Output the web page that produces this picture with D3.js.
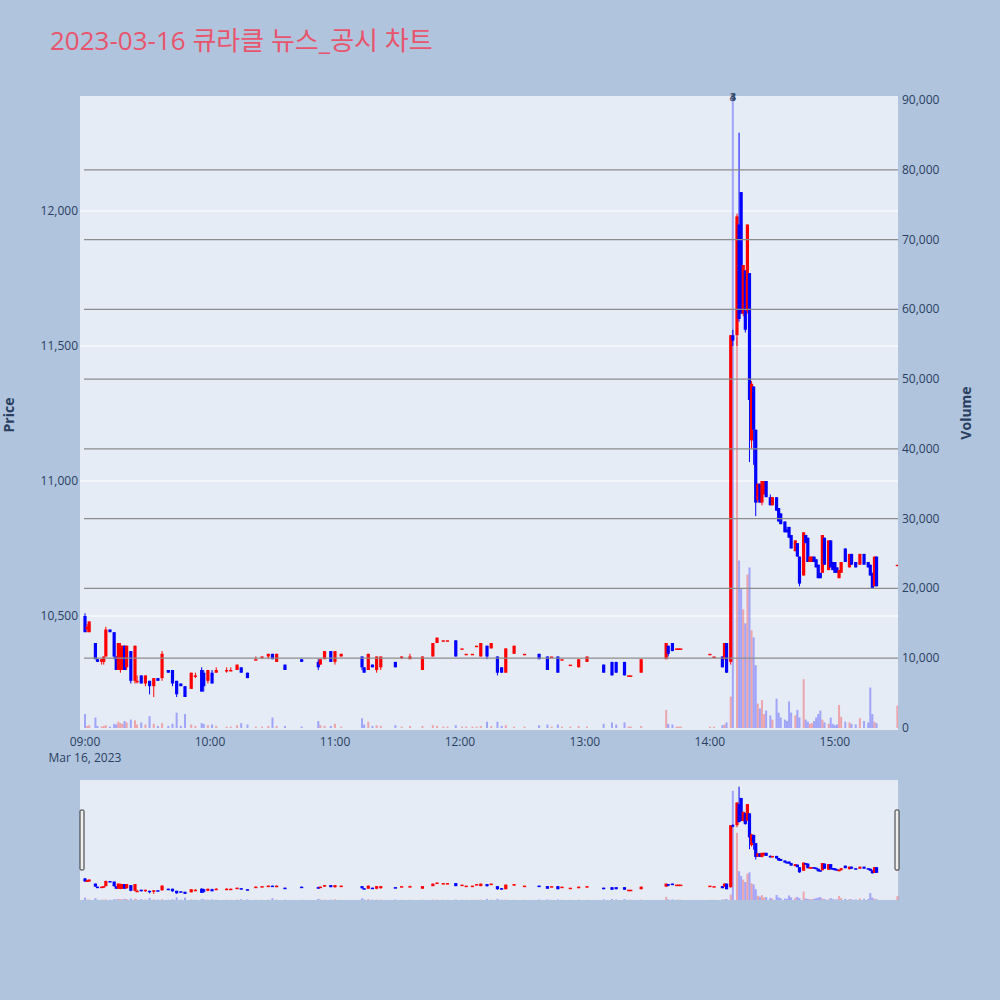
<!DOCTYPE html>
<html>
<head>
<meta charset="utf-8">
<script src="https://cdn.jsdelivr.net/npm/d3@7"></script>
<style>
  body { margin: 0; background: #b0c4de; }
  text { font-family: "Open Sans", "Noto Sans CJK KR", sans-serif; }
</style>
</head>
<body>
<div id="chart"></div>
<script>
// minute candles: [time, open, high, low, close, volume]
const ohlcv = [
  ["09:00",10500,10510,10440,10440,2000],["09:01",10450,10470,10440,10460,300],["09:02",10440,10480,10440,10480,400],
  ["09:05",10400,10400,10340,10340,1500],["09:06",10340,10340,10330,10330,300],["09:08",10330,10340,10320,10340,200],
  ["09:09",10330,10350,10320,10350,300],["09:10",10350,10460,10350,10450,400],["09:12",10450,10450,10440,10440,200],
  ["09:14",10440,10440,10340,10350,600],["09:15",10350,10350,10300,10300,500],["09:16",10300,10400,10300,10400,900],
  ["09:17",10300,10400,10290,10390,700],["09:18",10300,10390,10300,10390,600],["09:19",10390,10390,10300,10300,1000],
  ["09:20",10310,10390,10300,10390,800],["09:22",10370,10370,10250,10260,1200],["09:24",10260,10390,10250,10390,1100],
  ["09:25",10260,10280,10250,10260,500],["09:27",10280,10280,10250,10250,800],["09:29",10250,10280,10240,10280,500],
  ["09:31",10260,10260,10210,10240,1700],["09:33",10240,10270,10200,10270,600],["09:35",10270,10270,10260,10260,300],
  ["09:37",10270,10370,10260,10360,700],["09:40",10300,10300,10290,10290,300],["09:42",10300,10300,10240,10250,600],
  ["09:44",10260,10260,10200,10210,2200],["09:46",10250,10250,10240,10240,300],["09:48",10240,10240,10200,10200,2000],
  ["09:51",10230,10290,10230,10290,500],["09:53",10280,10290,10270,10280,300],["09:56",10300,10310,10220,10220,700],
  ["09:57",10290,10300,10220,10240,600],["09:59",10260,10300,10250,10300,400],["10:01",10290,10300,10250,10250,500],
  ["10:03",10290,10310,10290,10300,300],["10:08",10300,10310,10290,10300,200],["10:10",10300,10310,10300,10300,200],
  ["10:13",10300,10320,10300,10320,400],["10:15",10310,10310,10290,10290,700],["10:18",10290,10290,10270,10270,500],
  ["10:22",10340,10350,10340,10340,200],["10:25",10350,10350,10340,10350,200],["10:28",10350,10360,10340,10360,300],
  ["10:30",10360,10360,10340,10340,1500],["10:32",10330,10360,10330,10360,300],["10:36",10320,10320,10300,10300,300],
  ["10:44",10340,10340,10330,10330,200],["10:52",10330,10340,10300,10310,1000],["10:53",10320,10340,10320,10340,400],
  ["10:55",10340,10370,10340,10370,300],["10:58",10370,10370,10330,10330,300],["11:00",10330,10370,10320,10370,600],
  ["11:03",10350,10360,10350,10360,200],["11:13",10350,10350,10300,10310,1400],["11:14",10310,10310,10290,10290,500],
  ["11:16",10300,10360,10300,10360,900],["11:18",10320,10320,10310,10310,300],["11:20",10300,10350,10290,10350,400],
  ["11:22",10310,10350,10300,10350,300],["11:29",10330,10330,10310,10310,400],["11:32",10350,10350,10340,10350,200],
  ["11:36",10340,10360,10340,10350,300],["11:42",10300,10350,10300,10350,300],["11:47",10350,10400,10350,10400,400],
  ["11:49",10400,10420,10400,10420,300],["11:52",10410,10410,10410,10410,200],["11:54",10410,10410,10410,10410,200],
  ["11:58",10410,10410,10350,10350,400],["12:01",10380,10380,10380,10380,200],["12:03",10360,10360,10360,10360,200],
  ["12:06",10360,10360,10360,10360,200],["12:08",10390,10390,10390,10390,200],["12:10",10350,10400,10350,10400,300],
  ["12:13",10390,10390,10340,10350,900],["12:15",10380,10400,10380,10400,300],["12:18",10350,10350,10280,10290,900],
  ["12:20",10310,10310,10290,10290,300],["12:22",10290,10380,10290,10380,400],["12:26",10360,10390,10360,10390,200],
  ["12:31",10360,10360,10360,10360,200],["12:38",10360,10360,10340,10340,400],["12:42",10350,10350,10300,10300,500],
  ["12:44",10350,10350,10350,10350,200],["12:47",10350,10350,10290,10290,500],["12:49",10340,10340,10340,10340,200],
  ["12:53",10320,10320,10320,10320,200],["12:57",10310,10340,10310,10340,300],["13:01",10330,10350,10330,10350,200],
  ["13:09",10320,10320,10290,10290,600],["13:13",10330,10330,10280,10280,800],["13:15",10330,10330,10290,10290,500],
  ["13:19",10330,10330,10280,10280,800],["13:21",10280,10280,10280,10280,200],["13:22",10280,10280,10280,10280,200],
  ["13:27",10290,10340,10290,10340,300],["13:39",10340,10400,10340,10400,2600],["13:40",10390,10390,10350,10360,600],
  ["13:42",10400,10400,10370,10370,500],["13:44",10380,10380,10380,10380,200],["13:45",10380,10380,10380,10380,200],
  ["13:46",10380,10380,10380,10380,200],["14:00",10360,10360,10360,10360,200],["14:02",10350,10350,10350,10350,200],
  ["14:06",10350,10350,10310,10310,400],["14:07",10340,10400,10340,10400,500],["14:08",10400,10400,10290,10290,800],
  ["14:10",10330,11540,10320,11540,4500],["14:11",11540,11560,11500,11520,91000],["14:13",11540,11990,11500,11980,56000],
  ["14:14",11950,12290,11590,11600,24000],["14:15",12070,12070,11620,11620,20000],["14:16",11620,11800,11610,11800,17000],
  ["14:17",11780,11780,11550,11560,15000],["14:18",11630,11950,11620,11950,22000],["14:19",11770,11770,11070,11300,23000],
  ["14:20",11150,11370,11120,11360,14000],["14:21",11350,11350,11060,11190,13000],["14:22",11190,11190,10870,10920,9000],
  ["14:23",10930,10990,10920,10990,3500],["14:24",10990,10990,10920,10920,2800],["14:25",10920,11000,10910,11000,4000],
  ["14:26",10950,11000,10950,11000,2000],["14:27",11000,11000,10940,10940,2500],["14:29",10940,10950,10910,10910,1800],
  ["14:30",10910,10940,10910,10940,1200],["14:32",10940,10940,10890,10890,4200],["14:33",10900,10900,10850,10850,2200],
  ["14:34",10880,10880,10840,10840,1500],["14:36",10850,10850,10810,10810,1200],["14:37",10820,10830,10810,10810,1000],
  ["14:38",10830,10830,10790,10790,3800],["14:39",10800,10800,10750,10750,2200],["14:41",10740,10780,10740,10780,1800],
  ["14:42",10770,10770,10720,10720,2600],["14:43",10720,10720,10610,10620,1500],["14:45",10650,10810,10650,10810,7000],
  ["14:46",10800,10800,10770,10770,1200],["14:47",10790,10790,10700,10700,900],["14:48",10700,10720,10700,10720,600],
  ["14:49",10700,10720,10700,10720,700],["14:50",10720,10720,10700,10700,1000],["14:51",10710,10710,10680,10680,1500],
  ["14:52",10690,10690,10640,10640,2000],["14:53",10660,10660,10640,10640,2500],["14:54",10660,10800,10660,10800,1200],
  ["14:55",10790,10790,10690,10690,800],["14:57",10670,10780,10670,10780,600],["14:58",10780,10780,10680,10680,1500],
  ["14:59",10700,10700,10670,10670,600],["15:00",10700,10700,10660,10660,400],["15:01",10680,10680,10660,10660,500],
  ["15:02",10640,10670,10640,10670,3300],["15:03",10660,10700,10660,10700,1600],["15:05",10750,10750,10700,10700,900],
  ["15:07",10680,10730,10680,10730,800],["15:08",10730,10730,10690,10690,600],["15:10",10700,10700,10680,10680,500],
  ["15:12",10690,10730,10690,10730,1400],["15:14",10730,10730,10690,10690,1000],["15:16",10700,10700,10680,10680,800],
  ["15:17",10690,10690,10650,10650,5800],["15:18",10660,10660,10600,10600,2000],["15:19",10610,10720,10610,10720,900],
  ["15:20",10720,10720,10610,10610,700],["15:30",10690,10690,10690,10690,3200]
];
const priceTicks = [10500, 11000, 11500, 12000];
const volumeTicks = [0, 10000, 20000, 30000, 40000, 50000, 60000, 70000, 80000, 90000];
const timeTicks = ["09:00", "10:00", "11:00", "12:00", "13:00", "14:00", "15:00"];
const markers = ["3", "4"];

const W = 1000, H = 1000;
const plot = { left: 80, right: 898, top: 96, bottom: 730 };
const toMin = t => { const [h, m] = t.split(":").map(Number); return (h - 9) * 60 + m; };

const x = d3.scaleLinear().domain([-2.4, 390.3]).range([plot.left, plot.right]);
const y = d3.scaleLinear().domain([10500, 12000]).range([616, 211]);
const yv = d3.scaleLinear().domain([0, 90000]).range([728, 100]);

const svg = d3.select("#chart").append("svg").attr("width", W).attr("height", H);
svg.append("rect").attr("width", W).attr("height", H).attr("fill", "#b0c4de");

svg.append("text").attr("x", 50).attr("y", 50).attr("font-size", 26)
  .attr("fill", "#e8546b").text("2023-03-16 큐라클 뉴스_공시 차트");

svg.append("rect").attr("x", plot.left).attr("y", plot.top)
  .attr("width", plot.right - plot.left).attr("height", plot.bottom - plot.top).attr("fill", "#e5ecf6");

const g = svg.append("g");
g.append("defs").append("clipPath").attr("id", "clip").append("rect")
  .attr("x", plot.left).attr("y", plot.top).attr("width", plot.right - plot.left).attr("height", plot.bottom - plot.top);

// price grid (white)
g.selectAll(".pg").data(priceTicks).join("line")
  .attr("x1", plot.left).attr("x2", plot.right).attr("y1", d => y(d)).attr("y2", d => y(d))
  .attr("stroke", "#fff").attr("stroke-width", 1);

const data = ohlcv.map(([t, o, h, l, c, v]) => ({ m: toMin(t), o, h, l, c, v }));
const red = "#ff0000", blue = "#0000ff";
const col = d => d.c >= d.o ? red : blue;

const clipped = g.append("g").attr("clip-path", "url(#clip)");
// volume bars
clipped.selectAll(".vol").data(data).join("rect")
  .attr("x", d => x(d.m) - 1).attr("width", 2)
  .attr("y", d => yv(d.v)).attr("height", d => yv(0) - yv(d.v))
  .attr("fill", d => d.c >= d.o ? "rgba(255,0,0,0.3)" : "rgba(0,0,255,0.3)");

// volume grid (gray), drawn over volume bars
g.selectAll(".vg").data(volumeTicks.slice(1, -1)).join("line")
  .attr("x1", plot.left + 4).attr("x2", plot.right).attr("y1", d => yv(d)).attr("y2", d => yv(d))
  .attr("stroke", "#8c8c8c").attr("stroke-width", 1.2);

// candles
const cg = clipped.selectAll(".c").data(data).join("g");
cg.append("line").attr("x1", d => x(d.m)).attr("x2", d => x(d.m))
  .attr("y1", d => y(d.h)).attr("y2", d => y(d.l)).attr("stroke", col).attr("stroke-width", 1);
cg.append("rect").attr("x", d => x(d.m) - 1.6).attr("width", 3.2)
  .attr("y", d => y(Math.max(d.o, d.c)))
  .attr("height", d => Math.max(1.5, Math.abs(y(d.o) - y(d.c))))
  .attr("fill", col);

// markers at the spike
markers.forEach(s => g.append("text").attr("x", x(toMin("14:11"))).attr("y", 101)
  .attr("text-anchor", "middle").attr("font-size", 11).attr("font-weight", "bold")
  .attr("fill", "#2a3f5f").attr("opacity", 0.8).text(s));

// axes labels
const fmt = d3.format(",");
g.selectAll(".pl").data(priceTicks).join("text")
  .attr("x", plot.left - 2).attr("y", d => y(d) + 4).attr("text-anchor", "end")
  .attr("font-size", 12).attr("fill", "#2a3f5f").text(fmt);
g.selectAll(".vl").data(volumeTicks).join("text")
  .attr("x", plot.right + 4).attr("y", d => yv(d) + 4)
  .attr("font-size", 12).attr("fill", "#2a3f5f").text(fmt);
g.selectAll(".tl").data(timeTicks).join("text")
  .attr("x", d => x(toMin(d))).attr("y", plot.bottom + 16).attr("text-anchor", "middle")
  .attr("font-size", 12).attr("fill", "#2a3f5f").text(d => d);
g.append("text").attr("x", x(0)).attr("y", plot.bottom + 32).attr("text-anchor", "middle")
  .attr("font-size", 12).attr("fill", "#2a3f5f").text("Mar 16, 2023");
g.append("text").attr("transform", "translate(14,415) rotate(-90)").attr("text-anchor", "middle")
  .attr("font-size", 14).attr("font-weight", "bold").attr("fill", "#2a3f5f").text("Price");
g.append("text").attr("transform", "translate(971,413) rotate(-90)").attr("text-anchor", "middle")
  .attr("font-size", 14).attr("font-weight", "bold").attr("fill", "#2a3f5f").text("Volume");

// range slider
const rs = { top: 780, bottom: 900 };
svg.append("rect").attr("x", plot.left).attr("y", rs.top).attr("width", plot.right - plot.left)
  .attr("height", rs.bottom - rs.top).attr("fill", "#e5ecf6");
const ys = d3.scaleLinear().domain([10080, 12420]).range([rs.bottom, rs.top]);
const yvs = d3.scaleLinear().domain([0, 100000]).range([rs.bottom, rs.top]);
const sg = svg.append("g");
sg.selectAll(".sv").data(data).join("rect")
  .attr("x", d => x(d.m) - 1).attr("width", 2).attr("y", d => yvs(d.v)).attr("height", d => rs.bottom - yvs(d.v))
  .attr("fill", d => d.c >= d.o ? "rgba(255,0,0,0.3)" : "rgba(0,0,255,0.3)");
const sc = sg.selectAll(".sc").data(data).join("g");
sc.append("line").attr("x1", d => x(d.m)).attr("x2", d => x(d.m))
  .attr("y1", d => ys(d.h)).attr("y2", d => ys(d.l)).attr("stroke", col);
sc.append("rect").attr("x", d => x(d.m) - 1.6).attr("width", 3.2)
  .attr("y", d => ys(Math.max(d.o, d.c)))
  .attr("height", d => Math.max(1.5, Math.abs(ys(d.o) - ys(d.c)))).attr("fill", col);
[plot.left + 2, plot.right - 1].forEach(hx => svg.append("rect")
  .attr("x", hx - 2).attr("y", 810).attr("width", 4).attr("height", 60)
  .attr("fill", "#eee").attr("stroke", "#333").attr("stroke-width", 1).attr("rx", 1));
</script>
</body>
</html>
